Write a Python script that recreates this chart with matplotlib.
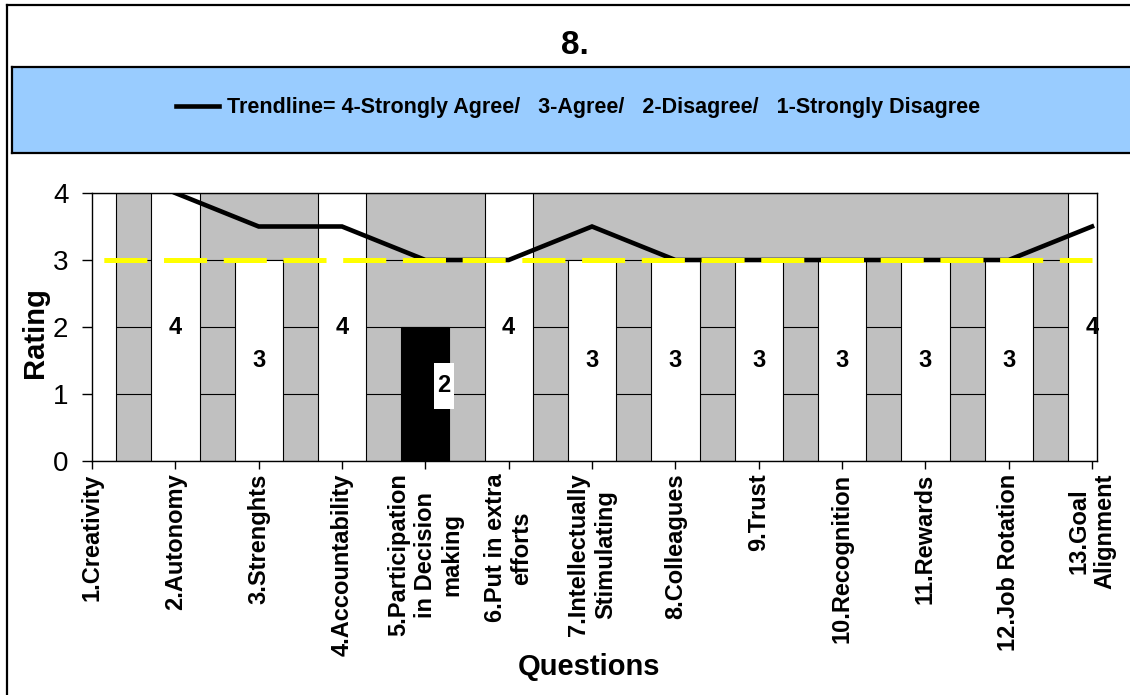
import numpy as np
import matplotlib
matplotlib.use("Agg")
import matplotlib.pyplot as plt
from matplotlib.patches import Rectangle
from matplotlib.lines import Line2D

plt.rcParams['font.family'] = ['Liberation Sans', 'DejaVu Sans']
plt.rcParams['lines.scale_dashes'] = False

# data
questions = ["1.Creativity", "2.Autonomy", "3.Strenghts", "4.Accountability",
             "5.Participation\nin Decision\nmaking", "6.Put in extra\nefforts",
             "7.Intellectually\nStimulating", "8.Colleagues", "9.Trust",
             "10.Recognition", "11.Rewards", "12.Job Rotation", "13.Goal\nAlignment"]
ratings = [4, 4, 3, 4, 2, 4, 3, 3, 3, 3, 3, 3, 4]
bar_colors = ["white"] * 4 + ["black"] + ["white"] * 8
# 2-period moving average trendline, starts at the 2nd question
trend_x = list(range(1, 13))
trend = [4, 3.5, 3.5, 3, 3, 3.5, 3, 3, 3, 3, 3, 3.5]
benchmark = [3] * 13

legend_text = "Trendline= 4-Strongly Agree/   3-Agree/   2-Disagree/   1-Strongly Disagree"

W, H = 1130, 695
fig = plt.figure(figsize=(W / 100, H / 100), dpi=100)

# blue legend band (runs off the right edge)
fig.patches.append(Rectangle((12 / W, 1 - 153 / H), 1 - 12 / W, 86 / H, transform=fig.transFigure,
                             facecolor="#99CCFF", edgecolor="none"))
for xs, ys in [([12 / W, 1.0], [1 - 67 / H] * 2), ([12 / W, 1.0], [1 - 153 / H] * 2),
               ([12 / W] * 2, [1 - 67 / H, 1 - 153 / H]),
               ([7 / W, 1.0], [1 - 5 / H] * 2), ([7 / W] * 2, [1 - 5 / H, 0.0])]:
    fig.lines.append(Line2D(xs, ys, transform=fig.transFigure, color="black", lw=1.6))

ax = fig.add_axes([92 / W, 1 - 461 / H, 1005 / W, 268 / H])
ax.set_facecolor("#C0C0C0")

x = np.arange(len(questions))
ax.bar(x, ratings, width=0.58, color=bar_colors, edgecolor="black", lw=0.8, zorder=2)
trend_line, = ax.plot(trend_x, trend, color="black", lw=3.3, zorder=3,
                      solid_joinstyle="miter")
ax.plot(x, benchmark, color="#FFFF00", lw=3.6, zorder=4,
        linestyle=(34.5, (31, 12)), dash_capstyle="butt")

# value labels
for i in range(1, len(ratings)):
    v = ratings[i]
    if bar_colors[i] == "black":
        lx, ly = i + 0.22, v / 2 + 0.12
        ax.add_patch(Rectangle((lx - 0.12, ly - 0.345), 0.24, 0.69, facecolor="white",
                               edgecolor="none", zorder=5))
        ax.text(lx, ly, str(v), ha="center", va="center", fontsize=17,
                fontweight="bold", zorder=6)
    else:
        ax.text(i, v / 2, str(v), ha="center", va="center", fontsize=17,
                fontweight="bold", zorder=6)

ax.set_xlim(0, 12.06)
ax.set_ylim(0, 4)
ax.set_yticks([0, 1, 2, 3, 4])
ax.yaxis.grid(True, color="black", lw=0.8)
ax.set_axisbelow(True)
for s in ax.spines.values():
    s.set_linewidth(1.0)
    s.set_zorder(7)

ax.set_xticks(x)
ax.set_xticklabels(questions, rotation=90, fontsize=17, fontweight="bold",
                   va="top", ha="center", multialignment="center", linespacing=1.2)
ax.tick_params(axis="x", length=6, width=1, pad=3)
ax.tick_params(axis="y", length=7, width=1, pad=10, labelsize=20)

ax.set_xlabel("Questions", fontsize=21, fontweight="bold", va="center")
ax.xaxis.set_label_coords(0.495, -0.77)
ax.set_ylabel("Rating", fontsize=21, fontweight="bold", va="center")
ax.yaxis.set_label_coords(-0.057, 0.48)

fig.text(575 / W, 1 - 45 / H, "8.", ha="center", va="center", fontsize=24, fontweight="bold")

fig.legend([trend_line], [legend_text], loc="center", bbox_to_anchor=(578 / W, 1 - 108 / H),
           frameon=False, handlelength=2.0, handletextpad=0.4,
           prop={"weight": "bold", "size": 15.5})

fig.savefig("out.png", dpi=100)
